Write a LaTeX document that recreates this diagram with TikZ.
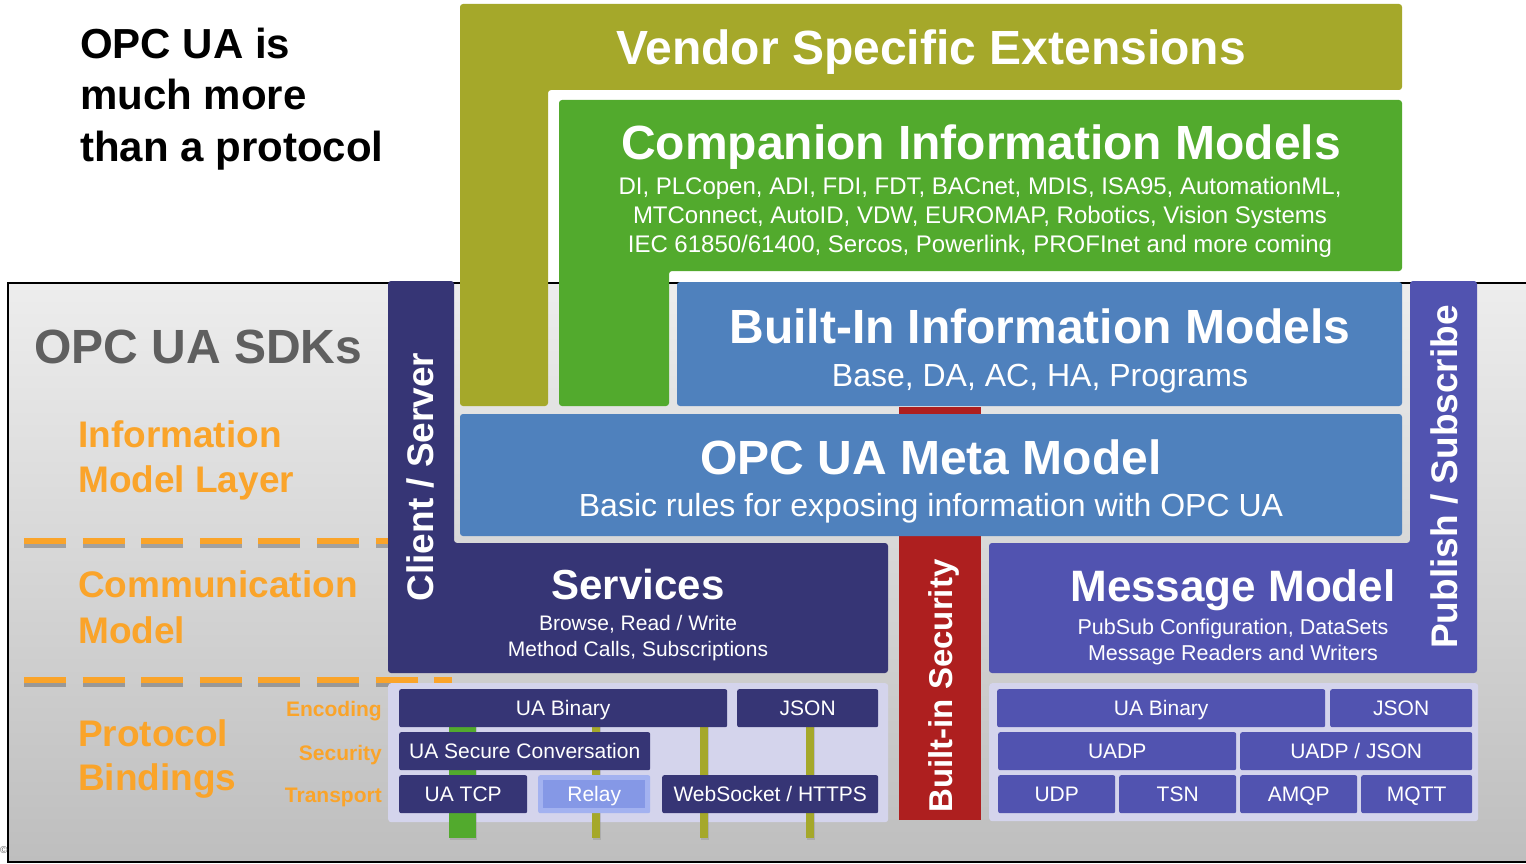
\documentclass[tikz,border=0pt]{standalone}
\usepackage{fontspec}
\setmainfont{Liberation Sans}
\usetikzlibrary{calc,positioning,shadows}

\definecolor{vendorc}{RGB}{165,168,42}
\definecolor{compc}{RGB}{82,170,45}
\definecolor{builtc}{RGB}{79,129,189}
\definecolor{navyc}{RGB}{54,53,117}
\definecolor{pubc}{RGB}{81,83,176}
\definecolor{secc}{RGB}{174,31,31}
\definecolor{panelc}{RGB}{212,212,236}
\definecolor{orangec}{RGB}{250,164,42}
\definecolor{sdkgray}{RGB}{95,95,95}
\definecolor{gtop}{RGB}{237,237,237}
\definecolor{gbot}{RGB}{190,190,190}
\definecolor{relayout}{RGB}{163,178,240}
\definecolor{relayin}{RGB}{133,152,230}

\newcommand\fsz[1]{\fontsize{#1}{#1}\selectfont}

\begin{document}
\begin{tikzpicture}[x=1pt, y=-1pt,
                    cell/.style   ={rectangle, rounded corners=2pt, fill=navyc, text=white, anchor=north west, inner sep=0, text height=15pt, text depth=0pt, font=\fsz{21}},
                    pcell/.style  ={cell, fill=pubc},
                    panel/.style  ={rectangle, rounded corners=3pt, fill=panelc, anchor=north west, inner sep=0},
                    head/.style   ={anchor=base, text=white, inner sep=0, font=\bfseries\fsz{48}},
                    sub/.style    ={anchor=base, text=white, inner sep=0, font=\fsz{24}},
                    side/.style   ={anchor=base, rotate=90, text=white, inner sep=0, font=\bfseries\fsz{37}},
                    layer/.style  ={anchor=base west, text=orangec, inner sep=0, font=\bfseries\fsz{37}},
                    tag/.style    ={anchor=base east, text=orangec, inner sep=0, font=\bfseries\fsz{21}},
                    bar/.style    ={fill=vendorc, drop shadow={shadow xshift=1pt, shadow yshift=-2pt, opacity=0.3}},
                    divider/.style={draw=orangec, line width=6pt, dash pattern=on 42pt off 16.6pt}]

  \useasboundingbox (0,0) rectangle (1526,864);
  \fill[white] (0,0) rectangle (1526,864);

  % SDK frame
  \shade[top color=gtop, bottom color=gbot] (8,283) rectangle (1540,862);
  \draw[line width=2pt] (1540,283) -- (8,283) -- (8,862) -- (1540,862);
  \node[anchor=west, inner sep=0, text=sdkgray, font=\fsz{10}] at(0, 850) (copy) {©};

  \node[anchor=base west, inner sep=0, font=\bfseries\fsz{42}] at(80, 59)  (claima) {OPC UA is};
  \node[anchor=base west, inner sep=0, font=\bfseries\fsz{42}] at(80, 110) (claimb) {much more};
  \node[anchor=base west, inner sep=0, font=\bfseries\fsz{42}] at(80, 161) (claimc) {than a protocol};

  \node[anchor=base west, inner sep=0, text=sdkgray, font=\bfseries\fsz{48}] at(34, 363) (sdks) {OPC UA SDKs};
  \node[layer] at(78, 447) (infoa) {Information};
  \node[layer] at(78, 492) (infob) {Model Layer};
  \node[layer] at(78, 597) (comma) {Communication};
  \node[layer] at(78, 643) (commb) {Model};
  \node[layer] at(78, 746) (prota) {Protocol};
  \node[layer] at(78, 790) (protb) {Bindings};
  \node[tag]   at(382, 716) (enc)  {Encoding};
  \node[tag]   at(382, 760) (secu) {Security};
  \node[tag]   at(382, 802) (trans){Transport};

  \draw[divider, draw=black, opacity=0.25] (24, 545) -- (452, 545);
  \draw[divider] (24, 541) -- (452, 541);
  \draw[divider, draw=black, opacity=0.25] (24, 684) -- (452, 684);
  \draw[divider] (24, 680) -- (452, 680);

  % layers
  \fill[vendorc, rounded corners=3pt] (460,4) -- (1402,4) -- (1402,90) -- (548,90) -- (548,406) -- (460,406) -- cycle;
  \fill[compc, rounded corners=3pt] (559,100) -- (1402,100) -- (1402,271) -- (669,271) -- (669,406) -- (559,406) -- cycle;
  \fill[secc] (899,407) rectangle (981,820);
  \fill[builtc, rounded corners=3pt] (677,282) rectangle (1402,406);
  \fill[builtc, rounded corners=3pt] (460,414) rectangle (1402,536);
  \fill[navyc, rounded corners=3pt] (388,281) -- (454,281) -- (454,543) -- (888,543) -- (888,673) -- (388,673) -- cycle;
  \fill[pubc, rounded corners=3pt] (1410,281) -- (1477,281) -- (1477,673) -- (989,673) -- (989,543) -- (1410,543) -- cycle;

  \node[head] at(931, 65)  (vendor) {Vendor Specific Extensions};
  \node[head] at(981, 160) (comp)   {Companion Information Models};
  \node[sub]  at(980, 194) (compa)  {DI, PLCopen, ADI, FDI, FDT, BACnet, MDIS, ISA95, AutomationML,};
  \node[sub]  at(980, 223) (compb)  {MTConnect, AutoID, VDW, EUROMAP, Robotics, Vision Systems};
  \node[sub]  at(980, 252) (compc)  {IEC 61850/61400, Sercos, Powerlink, PROFInet and more coming};
  \node[head] at(1040, 343) (built) {Built-In Information Models};
  \node[sub, font=\fsz{32}] at(1040, 386) (builta) {Base, DA, AC, HA, Programs};
  \node[head] at(931, 474) (meta)   {OPC UA Meta Model};
  \node[sub, font=\fsz{32}] at(931, 516) (metaa) {Basic rules for exposing information with OPC UA};
  \node[head, font=\bfseries\fsz{42}] at(638, 599) (serv) {Services};
  \node[sub, font=\fsz{21}] at(638, 630) (serva) {Browse, Read / Write};
  \node[sub, font=\fsz{21}] at(638, 656) (servb) {Method Calls, Subscriptions};
  \node[head, font=\bfseries\fsz{44}] at(1233, 601) (msg) {Message Model};
  \node[sub, font=\fsz{21.5}] at(1233, 634) (msga) {PubSub Configuration, DataSets};
  \node[sub, font=\fsz{21.5}] at(1233, 660) (msgb) {Message Readers and Writers};

  \node[side] at(433, 477)  (cs)  {Client / Server};
  \node[side] at(1457, 477) (ps)  {Publish / Subscribe};
  \node[side, font=\bfseries\fsz{33}] at(952, 686) (bis) {Built-in Security};

  % client / server bindings
  \node[panel, minimum width=500pt, minimum height=139pt] at(388, 683) (lpanel) {};
  \fill[compc, drop shadow={shadow xshift=1pt, shadow yshift=-2pt, opacity=0.3}] (449,700) rectangle (476,838);
  \fill[bar] (592,700) rectangle (600,838);
  \fill[bar] (700,700) rectangle (708,838);
  \fill[bar] (806,700) rectangle (814,838);
  \node[cell, minimum width=328pt, minimum height=38pt] at(399, 689) (lbin)  {UA Binary};
  \node[cell, minimum width=141pt, minimum height=38pt] at(737, 689) (ljson) {JSON};
  \node[cell, minimum width=251pt, minimum height=38pt] at(399, 732) (lsec)  {UA Secure Conversation};
  \node[cell, minimum width=128pt, minimum height=38pt] at(399, 775) (ltcp)  {UA TCP};
  \node[cell, fill=relayout, minimum width=112pt, minimum height=38pt] at(538, 775) (relaybox) {};
  \node[cell, fill=relayin, anchor=center, rounded corners=0pt, minimum width=102pt, minimum height=28pt] at(relaybox.center) (relay) {Relay};
  \node[cell, minimum width=216pt, minimum height=38pt] at(662, 775) (lws)   {WebSocket / HTTPS};

  % pubsub bindings
  \node[panel, minimum width=489pt, minimum height=138pt] at(989, 683) (rpanel) {};
  \node[pcell, minimum width=328pt, minimum height=38pt] at(997, 689)  (rbin)   {UA Binary};
  \node[pcell, minimum width=142pt, minimum height=38pt] at(1330, 689) (rjson)  {JSON};
  \node[pcell, minimum width=238pt, minimum height=38pt] at(998, 732)  (ruadp)  {UADP};
  \node[pcell, minimum width=232pt, minimum height=38pt] at(1240, 732) (ruadpj) {UADP / JSON};
  \node[pcell, minimum width=117pt, minimum height=38pt] at(998, 775)  (rudp)   {UDP};
  \node[pcell, minimum width=117pt, minimum height=38pt] at(1119, 775) (rtsn)   {TSN};
  \node[pcell, minimum width=117pt, minimum height=38pt] at(1240, 775) (ramqp)  {AMQP};
  \node[pcell, minimum width=111pt, minimum height=38pt] at(1361, 775) (rmqtt)  {MQTT};
\end{tikzpicture}
\end{document}
